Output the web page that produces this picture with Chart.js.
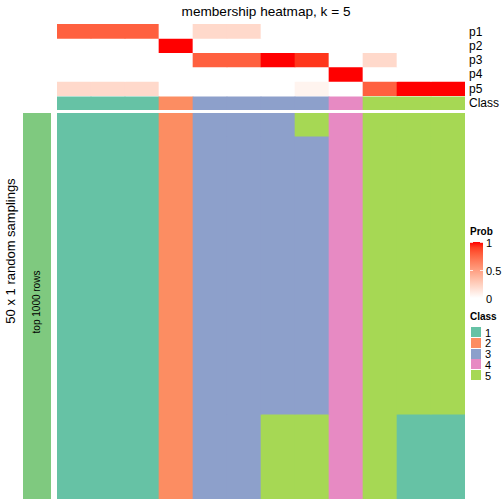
<!DOCTYPE html>
<html lang="en">
<head>
    <meta charset="UTF-8">
    <title>membership heatmap, k = 5</title>
    <script src="https://cdn.jsdelivr.net/npm/chart.js"></script>
    <style>
        body {
            margin: 0;
            font-family: "Liberation Sans", Arial, sans-serif;
            background: #fff;
        }
        #page {
            position: relative;
            width: 504px;
            height: 504px;
            overflow: hidden;
        }
        .txt {
            position: absolute;
            white-space: nowrap;
            color: #000;
            line-height: 1;
        }
        canvas { position: absolute; }
    </style>
</head>
<body>
<div id="page">
    <div class="txt" id="title" style="left:266px; top:12px; font-size:13.6px; transform:translate(-50%,-50%);">membership heatmap, k = 5</div>

    <canvas id="topChart" width="408" height="86" style="left:57px; top:24px;"></canvas>
    <canvas id="mainChart" width="408" height="386" style="left:57px; top:113px;"></canvas>

    <div id="split" style="position:absolute; left:23px; top:113px; width:28px; height:386px; background:#7FC97F;"></div>
    <div class="txt" style="left:37px; top:302px; font-size:10px; transform:translate(-50%,-50%) rotate(-90deg);">top 1000 rows</div>
    <div class="txt" style="left:10px; top:251px; font-size:13px; transform:translate(-50%,-50%) rotate(-90deg);">50 x 1 random samplings</div>

    <div id="rowLabels"></div>
    <div id="legend"></div>
</div>

<script>
    // columns of the heatmap (12 groups of samples)
    const columns = ["c1", "c2", "c3", "c4", "c5", "c6", "c7", "c8", "c9", "c10", "c11", "c12"];

    // membership probabilities per column
    const p1 = [0.78, 0.78, 0.78, 0, 0.2, 0.2, 0, 0, 0, 0, 0, 0];
    const p2 = [0, 0, 0, 1, 0, 0, 0, 0, 0, 0, 0, 0];
    const p3 = [0, 0, 0, 0, 0.78, 0.78, 1, 0.92, 0, 0.2, 0, 0];
    const p4 = [0, 0, 0, 0, 0, 0, 0, 0, 1, 0, 0, 0];
    const p5 = [0.2, 0.2, 0.2, 0, 0, 0, 0, 0.06, 0, 0.78, 1, 1];
    const classRow = [1, 1, 1, 2, 3, 3, 3, 3, 4, 5, 5, 5];

    // main heatmap: 50 samplings split into bands of identical rows
    const bandSizes = [3, 36, 11];
    const band1 = [1, 1, 1, 2, 3, 3, 3, 5, 4, 5, 5, 5];
    const band2 = [1, 1, 1, 2, 3, 3, 3, 3, 4, 5, 5, 5];
    const band3 = [1, 1, 1, 2, 3, 3, 5, 5, 4, 5, 1, 1];

    const probTicks = [1, 0.5, 0];
    const classLabels = [1, 2, 3, 4, 5];
    const classColors = {1: "#66C2A5", 2: "#FC8D62", 3: "#8DA0CB", 4: "#E78AC3", 5: "#A6D854"};

    // white -> red interpolated in LAB, like colorRamp2
    function probColor(t) {
        const L = 100 + (53.24 - 100) * t;
        const A = 80.09 * t;
        const B = 67.2 * t;
        const fy = (L + 16) / 116, fx = fy + A / 500, fz = fy - B / 200;
        const inv = f => (f * f * f > 0.008856 ? f * f * f : (116 * f - 16) / 903.3);
        const X = inv(fx) * 0.95047, Y = inv(fy), Z = inv(fz) * 1.08883;
        const lin = [
            3.2406 * X - 1.5372 * Y - 0.4986 * Z,
            -0.9689 * X + 1.8758 * Y + 0.0415 * Z,
            0.0557 * X - 0.2040 * Y + 1.0570 * Z
        ];
        const rgb = lin.map(c => {
            c = c <= 0.0031308 ? 12.92 * c : 1.055 * Math.pow(c, 1 / 2.4) - 0.055;
            return Math.round(Math.min(1, Math.max(0, c)) * 255);
        });
        return `rgb(${rgb[0]},${rgb[1]},${rgb[2]})`;
    }

    const barDefaults = {
        barPercentage: 1,
        categoryPercentage: 1,
        borderWidth: 0,
        borderSkipped: false,
        grouped: false
    };

    const baseOptions = (yMax) => ({
        responsive: false,
        animation: false,
        events: [],
        layout: { padding: 0 },
        plugins: { legend: { display: false }, tooltip: { enabled: false } },
        scales: {
            x: { display: false, grid: { display: false } },
            y: { display: false, min: 0, max: yMax, reverse: true, grid: { display: false } }
        }
    });

    // top annotation: p1..p5 and Class
    const probRows = [p1, p2, p3, p4, p5];
    const topDatasets = probRows.map((row, i) => Object.assign({
        data: row.map(() => [i, i + 1]),
        backgroundColor: row.map(v => probColor(v))
    }, barDefaults));
    topDatasets.push(Object.assign({
        data: classRow.map(() => [5.08, 6]),
        backgroundColor: classRow.map(c => classColors[c])
    }, barDefaults));

    new Chart(document.getElementById("topChart"), {
        type: "bar",
        data: { labels: columns, datasets: topDatasets },
        options: baseOptions(6)
    });

    // main heatmap
    const bands = [band1, band2, band3];
    let start = 0;
    const mainDatasets = bands.map((band, i) => {
        const s = start, e = start + bandSizes[i];
        start = e;
        return Object.assign({
            data: band.map(() => [s, e]),
            backgroundColor: band.map(c => classColors[c])
        }, barDefaults);
    });

    new Chart(document.getElementById("mainChart"), {
        type: "bar",
        data: { labels: columns, datasets: mainDatasets },
        options: baseOptions(50)
    });

    // row labels of the annotation
    const rowNames = ["p1", "p2", "p3", "p4", "p5", "Class"];
    const rowLabels = document.getElementById("rowLabels");
    rowNames.forEach((name, i) => {
        const d = document.createElement("div");
        d.className = "txt";
        d.style.left = "469px";
        d.style.top = (24 + 14.33 * i + 7.5) + "px";
        d.style.fontSize = "12px";
        d.style.transform = "translateY(-50%)";
        d.textContent = name;
        rowLabels.appendChild(d);
    });

    // legends
    const legend = document.getElementById("legend");
    function addText(txt, x, y, size, bold) {
        const d = document.createElement("div");
        d.className = "txt";
        d.style.left = x + "px";
        d.style.top = y + "px";
        d.style.fontSize = size + "px";
        d.style.transform = "translateY(-50%)";
        if (bold) d.style.fontWeight = "bold";
        d.textContent = txt;
        legend.appendChild(d);
    }

    addText("Prob", 470, 232, 10, true);
    const stops = [];
    for (let k = 0; k <= 10; k++) stops.push(probColor(1 - k / 10) + " " + (k * 10) + "%");
    const grad = document.createElement("div");
    grad.style.cssText = `position:absolute; left:470px; top:242px; width:13px; height:56px; background:linear-gradient(to bottom, ${stops.join(",")});`;
    legend.appendChild(grad);
    probTicks.forEach(v => {
        const y = 242 + (1 - v) * 56;
        addText(String(v), 486, y + 1, 11, false);
        if (v > 0) {
            ["470px", "480px"].forEach(l => {
                const t = document.createElement("div");
                t.style.cssText = `position:absolute; left:${l}; top:${y}px; width:3px; height:1px; background:rgba(255,255,255,0.8);`;
                legend.appendChild(t);
            });
        }
    });

    addText("Class", 470, 317, 10, true);
    classLabels.forEach((c, i) => {
        const y = 327 + 10.8 * i;
        const box = document.createElement("div");
        box.style.cssText = `position:absolute; left:471px; top:${y}px; width:10px; height:10px; background:${classColors[c]};`;
        legend.appendChild(box);
        addText(String(c), 485, y + 5.5, 11, false);
    });
</script>
</body>
</html>
